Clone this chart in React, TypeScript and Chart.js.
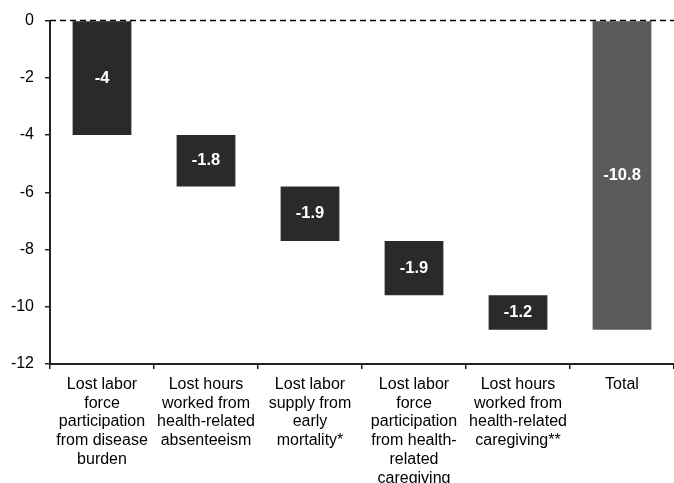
import React, { useEffect, useRef } from "react";
import { Chart, registerables } from "chart.js";

Chart.register(...registerables);

const categories: string[][] = [
  ["Lost labor", "force", "participation", "from disease", "burden"],
  ["Lost hours", "worked from", "health-related", "absenteeism"],
  ["Lost labor", "supply from", "early", "mortality*"],
  ["Lost labor", "force", "participation", "from health-", "related", "caregiving"],
  ["Lost hours", "worked from", "health-related", "caregiving**"],
  ["Total"],
];
const barStart = [0, -4, -5.8, -7.7, -9.6, 0];
const barEnd = [-4, -5.8, -7.7, -9.6, -10.8, -10.8];
const valueLabels = ["-4", "-1.8", "-1.9", "-1.9", "-1.2", "-10.8"];
const barColors = ["#2a2a2a", "#2a2a2a", "#2a2a2a", "#2a2a2a", "#2a2a2a", "#5b5b5b"];
const yMin = -12;
const yMax = 0;
const yStep = 2;

const FONT = "'Liberation Sans', Arial, Helvetica, sans-serif";

export default function App() {
  const ref = useRef<HTMLCanvasElement | null>(null);

  useEffect(() => {
    document.body.style.margin = "0";
    const canvas = ref.current;
    if (!canvas) return;

    const zeroLine = {
      id: "zeroLine",
      afterDatasetsDraw(chart: any) {
        const { ctx, chartArea, scales } = chart;
        const y = scales.y.getPixelForValue(0);
        ctx.save();
        ctx.strokeStyle = "#000";
        ctx.lineWidth = 1.5;
        ctx.setLineDash([6, 4]);
        ctx.beginPath();
        ctx.moveTo(chartArea.left, y);
        ctx.lineTo(chartArea.right, y);
        ctx.stroke();
        ctx.restore();
      },
    };

    const valueLabelPlugin = {
      id: "valueLabels",
      afterDatasetsDraw(chart: any) {
        const { ctx } = chart;
        const meta = chart.getDatasetMeta(0);
        ctx.save();
        ctx.fillStyle = "#ffffff";
        ctx.font = `bold 16.5px ${FONT}`;
        ctx.textAlign = "center";
        ctx.textBaseline = "middle";
        meta.data.forEach((el: any, i: number) => {
          const p = el.getCenterPoint();
          ctx.fillText(valueLabels[i], p.x, p.y);
        });
        ctx.restore();
      },
    };

    const chart = new Chart(canvas, {
      type: "bar",
      data: {
        labels: categories,
        datasets: [
          {
            data: barStart.map((s, i) => [s, barEnd[i]]) as any,
            backgroundColor: barColors,
            borderWidth: 0,
            barPercentage: 0.565,
            categoryPercentage: 1,
          },
        ],
      },
      options: {
        animation: false,
        responsive: true,
        maintainAspectRatio: false,
        layout: { padding: { top: 19, left: 0, right: 0, bottom: 0 } },
        plugins: {
          legend: { display: false },
          tooltip: { enabled: false },
        },
        scales: {
          x: {
            afterFit: (s: any) => {
              s.height = 119;
            },
            grid: {
              display: true,
              offset: true,
              drawOnChartArea: false,
              drawTicks: true,
              tickLength: 5,
              color: "#222",
              lineWidth: 1.5,
            },
            border: { display: true, color: "#222", width: 2 },
            ticks: {
              autoSkip: false,
              maxRotation: 0,
              minRotation: 0,
              padding: 6,
              color: "#000",
              font: { family: FONT, size: 16, lineHeight: 1.175 },
            },
          },
          y: {
            min: yMin,
            max: yMax,
            afterFit: (s: any) => {
              s.width = 50;
            },
            grid: {
              display: true,
              drawOnChartArea: false,
              drawTicks: true,
              tickLength: 5,
              color: "#222",
              lineWidth: 1.5,
            },
            border: { display: true, color: "#222", width: 2 },
            ticks: {
              stepSize: yStep,
              padding: 11,
              color: "#000",
              font: { family: FONT, size: 16 },
            },
          },
        },
      },
      plugins: [zeroLine, valueLabelPlugin],
    });

    return () => chart.destroy();
  }, []);

  return (
    <div
      style={{
        position: "fixed",
        left: 0,
        top: 0,
        width: 674,
        height: 483,
        overflow: "hidden",
        background: "#fff",
      }}
    >
      <canvas ref={ref} />
    </div>
  );
}
